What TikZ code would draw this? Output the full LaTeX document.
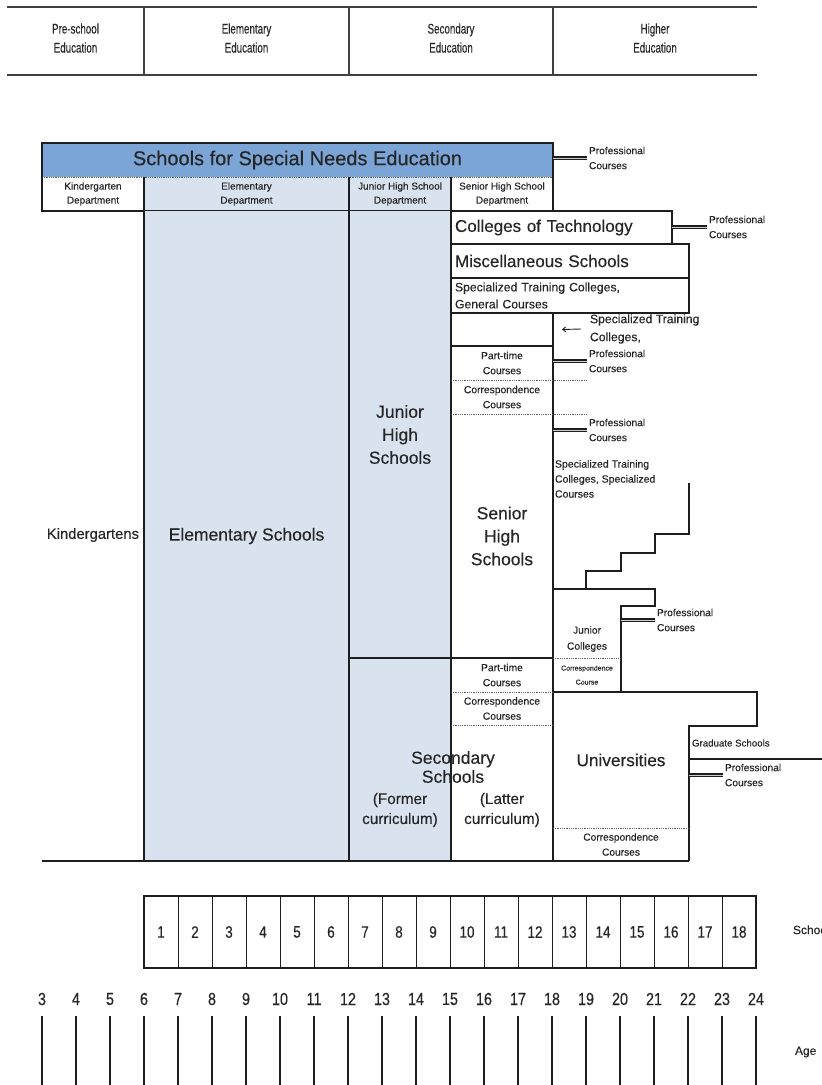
\documentclass[tikz,border=0pt]{standalone}
\usepackage{fontspec}
\setmainfont{Liberation Sans}[FakeBold=0.35]
\usepackage{graphicx}
\usetikzlibrary{arrows.meta}
\definecolor{barblue}{HTML}{7BA4D7}
\definecolor{lightblue}{HTML}{D9E3EF}
\definecolor{txt}{HTML}{262626}
\definecolor{ln}{HTML}{1E1E1E}
\newcommand\fsz[2]{\fontsize{#1}{#2}\selectfont}
\newcommand\cnd[1]{\scalebox{0.7}[1]{#1}}
\newcommand\dig[1]{\scalebox{0.82}[1]{#1}}
\begin{document}
\begin{tikzpicture}[x=1pt,y=-1pt,
  every node/.style={text=txt, inner sep=0pt, outer sep=0pt},
  bx/.style 2 args={minimum width=#1, minimum height=#2, anchor=north west},
  thk/.style={draw=ln, line width=1.8pt},
  mid/.style={draw=ln, line width=1.3pt},
  thn/.style={draw=ln, line width=0.9pt},
  dot/.style={draw=ln!70, line width=0.9pt, dash pattern=on 1pt off 0.8pt},
  dbl/.style={draw=ln, line width=1.2pt, double=gray!40, double distance=0.9pt, shorten >=2pt},
  hdrl/.style={draw=ln!85, line width=1.8pt},
  tiny/.style={font=\fsz{10.3}{15}, align=center},
  side/.style={font=\fsz{10.2}{15}, align=left, anchor=west},
  big/.style={font=\fsz{17.5}{23}, align=center},
  hdr/.style={font=\fsz{14}{19}, align=center}
]
\useasboundingbox (0,0) rectangle (822,1085);
\clip (0,0) rectangle (822,1085);

% ---------- header ----------
\node[bx={137}{68}, hdr] (hps) at (7,7) {\cnd{Pre-school}\\\cnd{Education}\\[-13pt]};
\node[bx={205}{68}, hdr] (hel) at (144,7) {\cnd{Elementary}\\\cnd{Education}\\[-13pt]};
\node[bx={204}{68}, hdr] (hse) at (349,7) {\cnd{Secondary}\\\cnd{Education}\\[-13pt]};
\node[bx={204}{68}, hdr] (hhe) at (553,7) {\cnd{Higher}\\\cnd{Education}\\[-13pt]};
\draw[hdrl] (hps.north west) -- (hhe.north east);
\draw[hdrl] (hps.south west) -- (hhe.south east);
\draw[hdrl] (hps.north east) -- (hps.south east);
\draw[hdrl] (hel.north east) -- (hel.south east);
\draw[hdrl] (hse.north east) -- (hse.south east);

% ---------- special needs ----------
\node[bx={511}{34}, fill=barblue, font=\fsz{20}{22}] (sn) at (42,143) {Schools for Special Needs Education};
\node[bx={102}{34}, font=\fsz{10}{14}, align=center] (kd) at (42,177) {Kindergarten\\Department};
\node[bx={205}{34}, fill=lightblue, font=\fsz{10}{14}, align=center] (ed) at (144,177) {Elementary\\Department};
\node[bx={102}{34}, fill=lightblue, font=\fsz{10}{14}, align=center] (jd) at (349,177) {Junior High School\\Department};
\node[bx={102}{34}, font=\fsz{10}{14}, align=center] (sd) at (451,177) {Senior High School\\Department};
\draw[dot] (sn.south west) -- (sn.south east);
\draw[thk] (kd.north east) -- (kd.south east);
\draw[thk] (ed.north east) -- (ed.south east);
\draw[thk] (jd.north east) -- (jd.south east);
\draw[thk] (sn.north west) rectangle (sd.south east);
\node[side] (pc1) at (589,158) {Professional\\Courses};
\draw[dbl] (pc1.west -| sn.east) -- (pc1.west);

% ---------- main columns ----------
\node[bx={205}{650}, fill=lightblue, font=\fsz{17.5}{19}] (es) at (144,211) {Elementary Schools};
\node[bx={102}{447}, fill=lightblue, big] (jh) at (349,211) {Junior\\High\\Schools};
\node[bx={102}{203}, fill=lightblue] (sf) at (349,658) {};
\node[bx={102}{136}] (sl) at (451,725) {};
\node[font=\fsz{17.5}{19}, align=center] (sst) at (453,767) {Secondary\\Schools};
\node[font=\fsz{15.3}{20}, align=center] (sft) at (400,810) {(Former\\curriculum)};
\node[font=\fsz{15.3}{20}, align=center] (slt) at (502,810) {(Latter\\curriculum)};
\node[anchor=east, font=\fsz{14.8}{16}] (kg) at (139,535) {Kindergartens};

% ---------- senior column ----------
\node[bx={221}{33}, inner xsep=4pt, text width=213pt, align=left, font=\fsz{17}{18}] (ct) at (451,211) {Colleges of Technology};
\node[bx={238}{34}, inner xsep=4pt, text width=230pt, align=left, font=\fsz{17}{18}] (ms) at (451,244) {Miscellaneous Schools};
\node[bx={238}{35}, inner xsep=4pt, text width=230pt, align=left, font=\fsz{12.2}{17}] (stg) at (451,278) {Specialized Training Colleges,\\General Courses};
\node[bx={102}{33}] (emp) at (451,313) {};
\node[bx={102}{34}, tiny] (pt1) at (451,346) {Part-time\\Courses};
\node[bx={102}{34}, tiny] (cc1) at (451,380) {Correspondence\\Courses};
\node[bx={102}{244}, big] (sh) at (451,414) {Senior\\High\\Schools};
\node[bx={102}{34}, tiny] (pt2) at (451,658) {Part-time\\Courses};
\node[bx={102}{33}, tiny] (cc2) at (451,692) {Correspondence\\Courses};

% ---------- higher ----------
\node[bx={68}{69}] (jc) at (553,589) {};
\node[font=\fsz{10.3}{16}, align=center] (jct) at (587,639) {Junior\\Colleges};
\node[bx={68}{34}, font=\fsz{7}{14}, align=center] (jcc) at (553,658) {Correspondence\\Course};
\node[bx={136}{136}, font=\fsz{17.2}{18}] (un) at (553,692) {Universities};
\node[bx={136}{33}, font=\fsz{10.2}{15}, align=center] (ucc) at (553,828) {Correspondence\\Courses};

% lines
\coordinate (bl) at (42,861);
\draw[thk] (es.north west) -- (es.south west);
\draw[thk] (es.north east) -- (es.south east);
\draw[thk] (jh.north east) -- (sf.south east);
\draw[thk] (bl) -- (ucc.south east);
\draw[thk] (ct.north west) -- (ct.north east) -- (ct.south east);
\draw[thk] (ms.north west) rectangle (ms.south east);
\draw[thk] (stg.north east) -- (stg.south east) -- (stg.south west);
\draw[thk] (emp.north east) -- (ucc.south west);
\draw[thk] (emp.south west) -- (emp.south east);
\draw[dot] (pt1.south west) -- ([xshift=34pt]pt1.south east);
\draw[dot] (cc1.south west) -- ([xshift=34pt]cc1.south east);
\draw[thk] (sf.north west) -- (pt2.north east);
\draw[dot] (pt2.south west) -- (pt2.south east);
\draw[dot] (cc2.south west) -- (cc2.south east);

% arrow to empty box
\node[anchor=west, font=\fsz{12.2}{18}, align=left] (stc) at (590,329) {Specialized Training\\Colleges,};
\draw[thn, -{Straight Barb[length=3pt,width=5pt]}] ([xshift=-9pt]stc.west) -- ([xshift=9pt]emp.east);

\node[side] (pc2) at (589,361) {Professional\\Courses};
\draw[dbl] (pc2.west -| pt1.east) -- (pc2.west);
\node[side] (pc4) at (589,430) {Professional\\Courses};
\draw[dbl] (pc4.west -| sh.east) -- (pc4.west);
\node[side] (pc3) at (709,227) {Professional\\Courses};
\draw[dbl] (pc3.west -| ct.east) -- (pc3.west);
\node[anchor=north west, font=\fsz{10.5}{15}, align=left] (stsc) at (555,460) {Specialized Training\\Colleges, Specialized\\Courses};

% staircase
\coordinate (st0) at (586,589);
\draw[thk] (st0) -- ++(0,-18) -- ++(35,0) -- ++(0,-18) -- ++(34,0) -- ++(0,-19) -- ++(34,0) -- ++(0,-51);

% junior colleges outline
\coordinate (jcA) at (655,589);
\coordinate (jcB) at (655,606);
\draw[thk] (jc.north west) -- (jcA) -- (jcB) -- (jc.north east |- jcB) -- (jcc.south east);
\draw[dot] (jc.south west) -- (jc.south east);
\node[side] (pc5) at (657,620) {Professional\\Courses};
\draw[dbl] (pc5.west -| jc.east) -- (pc5.west);

% universities outline
\coordinate (gA) at (757,692);
\coordinate (gB) at (757,726);
\coordinate (gC) at (689,726);
\draw[thk] (un.north west) -- (gA) -- (gB) -- (gC) -- (ucc.south east);
\draw[dot] (ucc.north west) -- (ucc.north east);
\node[anchor=west, font=\fsz{9.7}{11}] (gs) at (692,743) {Graduate Schools};
\coordinate (gE) at (822,759);
\draw[mid] (gE -| un.east) -- (gE);
\node[side] (pc6) at (725,775) {Professional\\Courses};
\draw[dbl] (pc6.west -| un.east) -- (pc6.west);

% ---------- school years ----------
\foreach \i in {1,...,18} {
  \node[bx={34}{72}, draw=ln, line width=1pt, font=\fsz{16.5}{18}] (yr\i) at ({144+34*(\i-1)},896) {\dig{\i}};
}
\draw[mid] (yr1.north west) rectangle (yr18.south east);
\node[anchor=west, font=\fsz{12}{14}] (syl) at (793,931) {School year};

% ---------- ages ----------
\foreach \a in {3,...,24} {
  \node[font=\fsz{17.5}{18}] (ag\a) at ({42+34*(\a-3)},999) {\dig{\a}};
  \draw[draw=ln, line width=1.1pt] ([yshift=-11pt]ag\a.south) -- ++(0,80);
}
\node[anchor=west, font=\fsz{12}{14}] (agl) at (795,1052) {Age};
\end{tikzpicture}
\end{document}
